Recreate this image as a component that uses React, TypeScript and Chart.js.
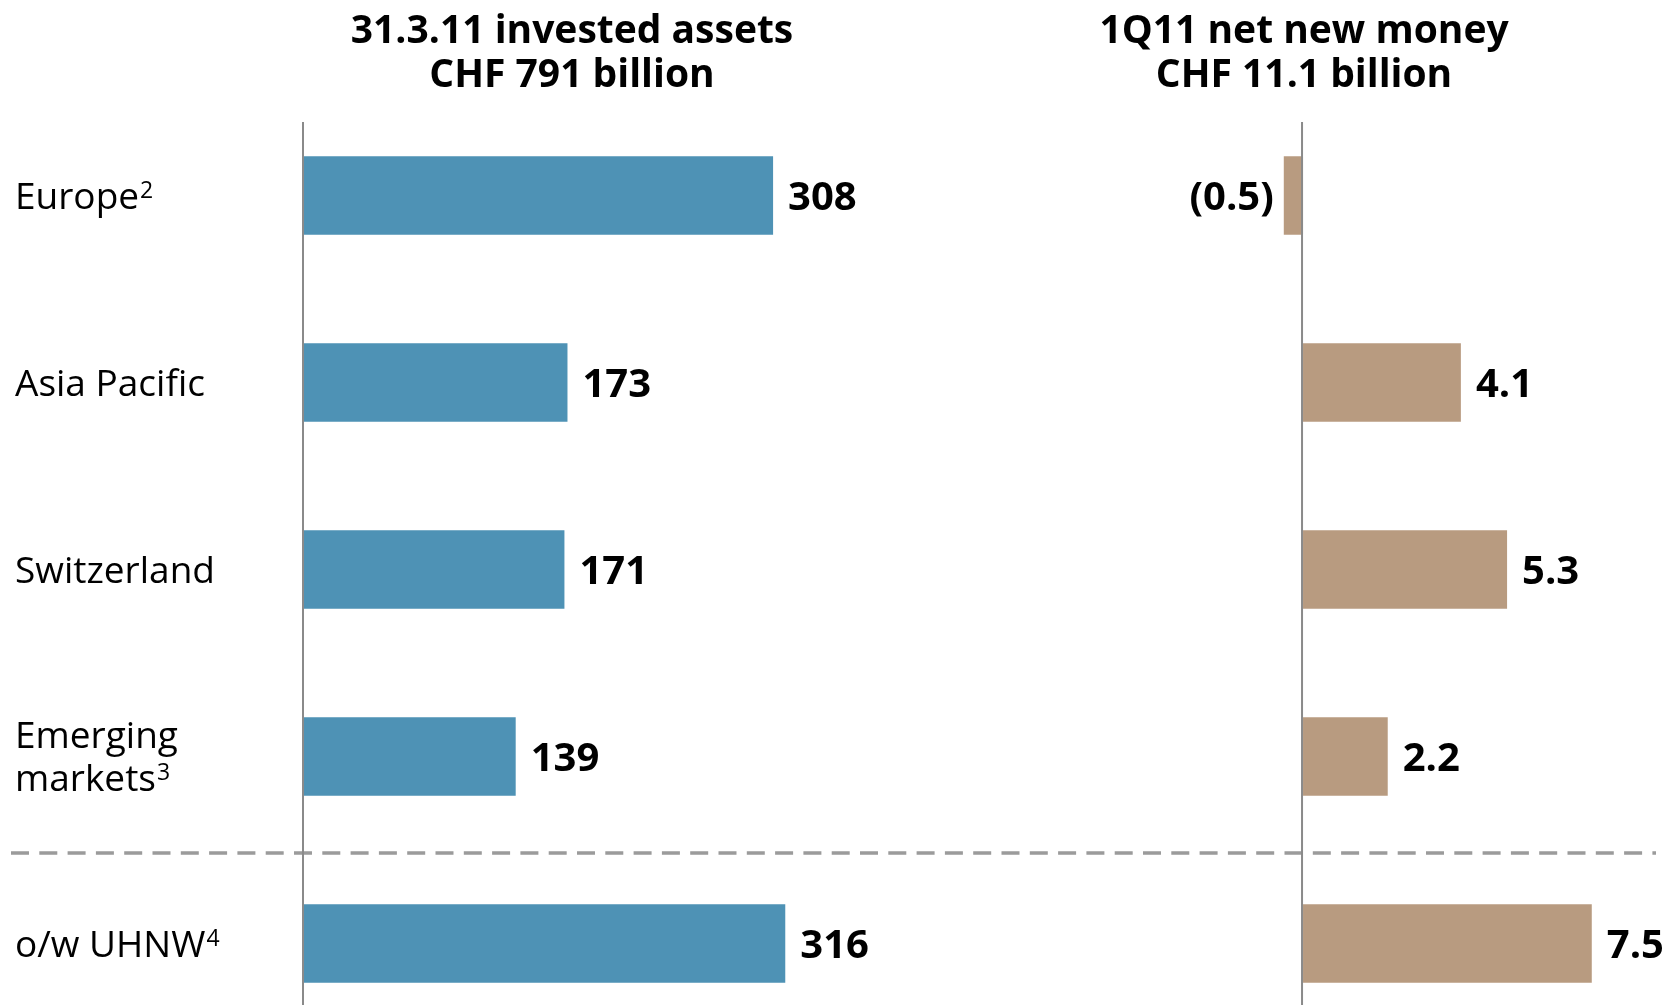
import React, { useEffect, useRef } from "react";
import { Chart, registerables } from "chart.js";

Chart.register(...registerables);

// ---- data ----
const categories = ["Europe", "Asia Pacific", "Switzerland", "Emerging markets", "o/w UHNW"];
const categoryLines = [["Europe"], ["Asia Pacific"], ["Switzerland"], ["Emerging", "markets"], ["o/w UHNW"]];
const footnotes = ["2", "", "", "3", "4"];
const investedAssets = [308, 173, 171, 139, 316];
const netNewMoney = [-0.5, 4.1, 5.3, 2.2, 7.5];
const leftTitle = ["31.3.11 invested assets", "CHF 791 billion"];
const rightTitle = ["1Q11 net new money", "CHF 11.1 billion"];

const FONT = "'Open Sans', 'Noto Sans', 'DejaVu Sans', sans-serif";
const BLUE = "#4e92b5";
const TAN = "#b89b80";

const overlayPlugin = {
  id: "overlay",
  beforeDatasetsDraw(chart: any) {
    const ctx = chart.ctx;
    const y = chart.scales.y;
    const yDash = (y.getPixelForValue(3) + y.getPixelForValue(4)) / 2 + 3;
    ctx.save();
    ctx.strokeStyle = "#9b9b9b";
    ctx.lineWidth = 3.5;
    ctx.setLineDash([18, 10.3]);
    ctx.beginPath();
    ctx.moveTo(11, yDash);
    ctx.lineTo(1656, yDash);
    ctx.stroke();
    ctx.restore();
  },
  afterDatasetsDraw(chart: any) {
    const ctx = chart.ctx;
    const y = chart.scales.y;
    const xL = chart.scales.xL;
    const xR = chart.scales.xR;
    const zeroL = xL.getPixelForValue(0);
    const zeroR = xR.getPixelForValue(0);
    ctx.save();

    // axis lines
    ctx.strokeStyle = "#8a8a8a";
    ctx.lineWidth = 2;
    [zeroL, zeroR].forEach((x) => {
      ctx.beginPath();
      ctx.moveTo(x - 1, 122);
      ctx.lineTo(x - 1, chart.height);
      ctx.stroke();
    });

    // titles
    ctx.fillStyle = "#000";
    ctx.font = `bold 39px ${FONT}`;
    ctx.textAlign = "center";
    ctx.textBaseline = "alphabetic";
    leftTitle.forEach((t, i) => ctx.fillText(t, 572, 43 + i * 44));
    rightTitle.forEach((t, i) => ctx.fillText(t, zeroR + 1, 43 + i * 44));

    // category labels
    categoryLines.forEach((lines, j) => {
      const cy = y.getPixelForValue(j);
      const n = lines.length;
      lines.forEach((line, k) => {
        const base = cy + (k - (n - 1) / 2) * 43 + 13;
        ctx.font = `37px ${FONT}`;
        ctx.textAlign = "left";
        ctx.fillText(line, 15, base);
        if (k === n - 1 && footnotes[j]) {
          const w = ctx.measureText(line).width;
          ctx.font = `23px ${FONT}`;
          ctx.fillText(footnotes[j], 15 + w + 1, base - 11);
        }
      });
    });

    // value labels
    ctx.font = `bold 40px ${FONT}`;
    chart.data.datasets.forEach((ds: any, i: number) => {
      const meta = chart.getDatasetMeta(i);
      meta.data.forEach((el: any, j: number) => {
        const v = ds.data[j];
        const txt = v < 0 ? `(${Math.abs(v).toFixed(1)})` : i === 0 ? String(v) : v.toFixed(1);
        const by = el.y + 14;
        if (v < 0) {
          ctx.textAlign = "right";
          ctx.fillText(txt, el.x - 10, by);
        } else {
          ctx.textAlign = "left";
          ctx.fillText(txt, el.x + 15, by);
        }
      });
    });
    ctx.restore();
  },
};

export default function App() {
  const ref = useRef<HTMLCanvasElement>(null);
  useEffect(() => {
    if (!ref.current) return;
    const chart = new Chart(ref.current, {
      type: "bar",
      data: {
        labels: categories,
        datasets: [
          {
            label: "Invested assets",
            data: investedAssets,
            xAxisID: "xL",
            backgroundColor: BLUE,
            grouped: false,
            barPercentage: 0.42,
            categoryPercentage: 1,
          } as any,
          {
            label: "Net new money",
            data: netNewMoney,
            xAxisID: "xR",
            backgroundColor: TAN,
            grouped: false,
            barPercentage: 0.42,
            categoryPercentage: 1,
          } as any,
        ],
      },
      options: {
        indexAxis: "y",
        responsive: false,
        animation: false,
        events: [],
        devicePixelRatio: 1,
        layout: { padding: { left: 304, top: 102, right: 0, bottom: 3 } },
        plugins: { legend: { display: false }, tooltip: { enabled: false }, title: { display: false } },
        scales: {
          y: { type: "category", display: false, offset: true },
          xL: { type: "linear", display: false, min: 0, max: 895.6 },
          xR: { type: "linear", display: false, min: -25.95, max: 9.48 },
        },
      } as any,
      plugins: [overlayPlugin],
    });
    return () => chart.destroy();
  }, []);

  return (
    <div style={{ position: "absolute", left: 0, top: 0, width: 1668, height: 1005, overflow: "hidden", background: "#fff" }}>
      <canvas ref={ref} width={1668} height={1040} style={{ display: "block", width: 1668, height: 1040 }} />
    </div>
  );
}
